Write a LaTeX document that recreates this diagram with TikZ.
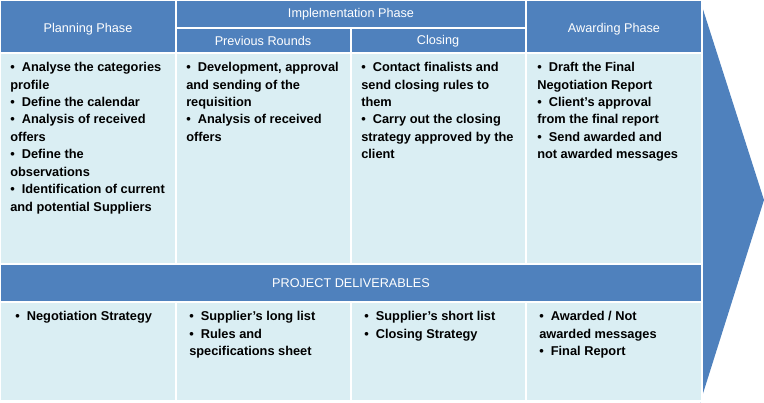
\documentclass[tikz,border=0pt]{standalone}
\usepackage{fontspec}
\setmainfont{Liberation Sans}
\definecolor{hdr}{HTML}{4F81BD}
\definecolor{cell}{HTML}{DAEEF3}
\begin{document}
\begin{tikzpicture}[x=0.75pt,y=-0.75pt,
  hbox/.style={fill=hdr,draw=white,line width=1pt},
  cbox/.style={fill=cell,draw=white,line width=1pt},
  htxt/.style={text=white,font=\fontsize{9.5}{11}\selectfont},
  btxt/.style={anchor=north west,align=left,inner sep=0pt,font=\fontsize{9.6}{13.1}\selectfont\bfseries}]
\useasboundingbox (0,0) rectangle (764,403);
\fill[hdr] (700,0) -- (764,200) -- (700,403) -- cycle;
% headers
\draw[hbox] (0,0) rectangle (176,53);
\draw[hbox] (176,0) rectangle (526,28);
\draw[hbox] (176,28) rectangle (351,53);
\draw[hbox] (351,28) rectangle (526,53);
\draw[hbox] (526,0) rectangle (702,53);
\node[htxt] (hp) at (88,29) {Planning Phase};
\node[htxt] (hi) at (351,14) {Implementation Phase};
\node[htxt] (hr) at (263,41) {Previous Rounds};
\node[htxt] (hc) at (438,41) {Closing};
\node[htxt] (ha) at (614,29) {Awarding Phase};
% body
\foreach \a/\b in {0/176,176/351,351/526,526/702}{
  \draw[cbox] (\a,53) rectangle (\b,264);
  \draw[cbox] (\a,302) rectangle (\b,401);}
\draw[hbox] (0,264) rectangle (702,302);
\node[htxt] (pd) at (351,283) {PROJECT DELIVERABLES};
\node[btxt] (t1) at (10,62) {\textbullet\ \ Analyse the categories\\profile\\\textbullet\ \ Define the calendar\\\textbullet\ \ Analysis of received\\offers\\\textbullet\ \ Define the\\observations\\\textbullet\ \ Identification of current\\and potential Suppliers};
\node[btxt] (t2) at (186,62) {\textbullet\ \ Development, approval\\and sending of the\\requisition\\\textbullet\ \ Analysis of received\\offers};
\node[btxt] (t3) at (361,62) {\textbullet\ \ Contact finalists and\\send closing rules to\\them\\\textbullet\ \ Carry out the closing\\strategy approved by the\\client};
\node[btxt] (t4) at (537,62) {\textbullet\ \ Draft the Final\\Negotiation Report\\\textbullet\ \ Client's approval\\from the final report\\\textbullet\ \ Send awarded and\\not awarded messages};
\node[btxt] (d1) at (15,311) {\textbullet\ \ Negotiation Strategy};
\node[btxt] (d2) at (189,311) {\textbullet\ \ Supplier's long list\\\textbullet\ \ Rules and\\specifications sheet};
\node[btxt] (d3) at (364,311) {\textbullet\ \ Supplier's short list\\\textbullet\ \ Closing Strategy};
\node[btxt] (d4) at (539,311) {\textbullet\ \ Awarded / Not\\awarded messages\\\textbullet\ \ Final Report};
\end{tikzpicture}
\end{document}
